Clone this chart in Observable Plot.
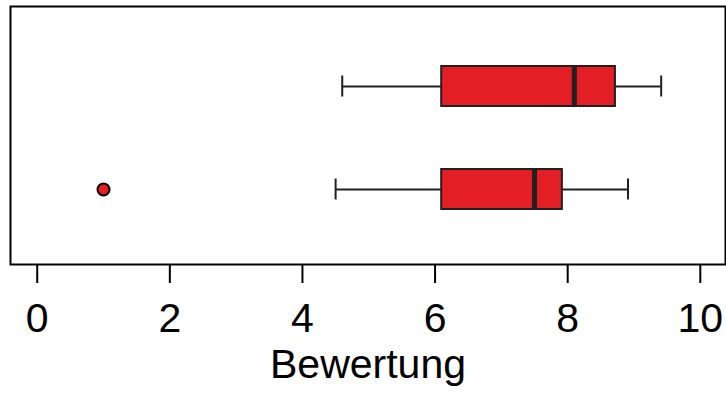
<!DOCTYPE html>
<html>
<head>
<meta charset="utf-8">
<script src="https://cdn.jsdelivr.net/npm/d3@7"></script>
<script src="https://cdn.jsdelivr.net/npm/@observablehq/plot@0.6"></script>
<style>
  html, body { margin: 0; padding: 0; background: #fff; }
  #chart svg { display: block; }
</style>
</head>
<body>
<div id="chart"></div>
<script>
const groups = ["A", "B"];
const whiskerLow = [4.6, 4.5];
const q1 = [6.1, 6.1];
const median = [8.1, 7.5];
const q3 = [8.72, 7.92];
const whiskerHigh = [9.41, 8.91];
const outlierGroup = ["B"];
const outlierValue = [1.0];
const xTicks = [0, 2, 4, 6, 8, 10];

const boxes = groups.map((g, i) => ({
  g, lo: whiskerLow[i], q1: q1[i], med: median[i], q3: q3[i], hi: whiskerHigh[i]
}));
const outliers = outlierGroup.map((g, i) => ({g, v: outlierValue[i]}));

const red = "#e31e24";
const dark = "#231f20";

const chart = Plot.plot({
  width: 726,
  height: 393,
  marginLeft: 10,
  marginRight: 1,
  marginTop: 6,
  marginBottom: 129,
  style: {fontFamily: "'Liberation Sans', Arial, sans-serif", background: "#fff", color: "#000"},
  x: {domain: [-0.403, 10.38], ticks: xTicks},
  y: {domain: groups, paddingInner: 0.612, paddingOuter: 0.558, align: 0.52, axis: null},
  marks: [
    Plot.ruleY(boxes, {y: "g", x1: "lo", x2: "q1", stroke: dark, strokeWidth: 2}),
    Plot.ruleY(boxes, {y: "g", x1: "q3", x2: "hi", stroke: dark, strokeWidth: 2}),
    Plot.tickX(boxes, {y: "g", x: "lo", stroke: dark, strokeWidth: 2, insetTop: 9.5, insetBottom: 9.5}),
    Plot.tickX(boxes, {y: "g", x: "hi", stroke: dark, strokeWidth: 2, insetTop: 9.5, insetBottom: 9.5}),
    Plot.barX(boxes, {y: "g", x1: "q1", x2: "q3", fill: red, stroke: dark, strokeWidth: 2}),
    Plot.tickX(boxes, {y: "g", x: "med", stroke: dark, strokeWidth: 5, insetTop: 1, insetBottom: 1}),
    Plot.dot(outliers, {y: "g", x: "v", r: 6, fill: red, stroke: "#000", strokeWidth: 2}),
    Plot.frame({stroke: "#000", strokeWidth: 2}),
    Plot.axisX({
      ticks: xTicks,
      tickSize: 19,
      tickPadding: 19,
      strokeWidth: 2,
      fontSize: 41,
      label: "Bewertung",
      labelAnchor: "center",
      labelArrow: "none",
      labelOffset: 113,
      stroke: "#000",
      fill: "#000"
    })
  ]
});
document.getElementById("chart").append(chart);
</script>
</body>
</html>
